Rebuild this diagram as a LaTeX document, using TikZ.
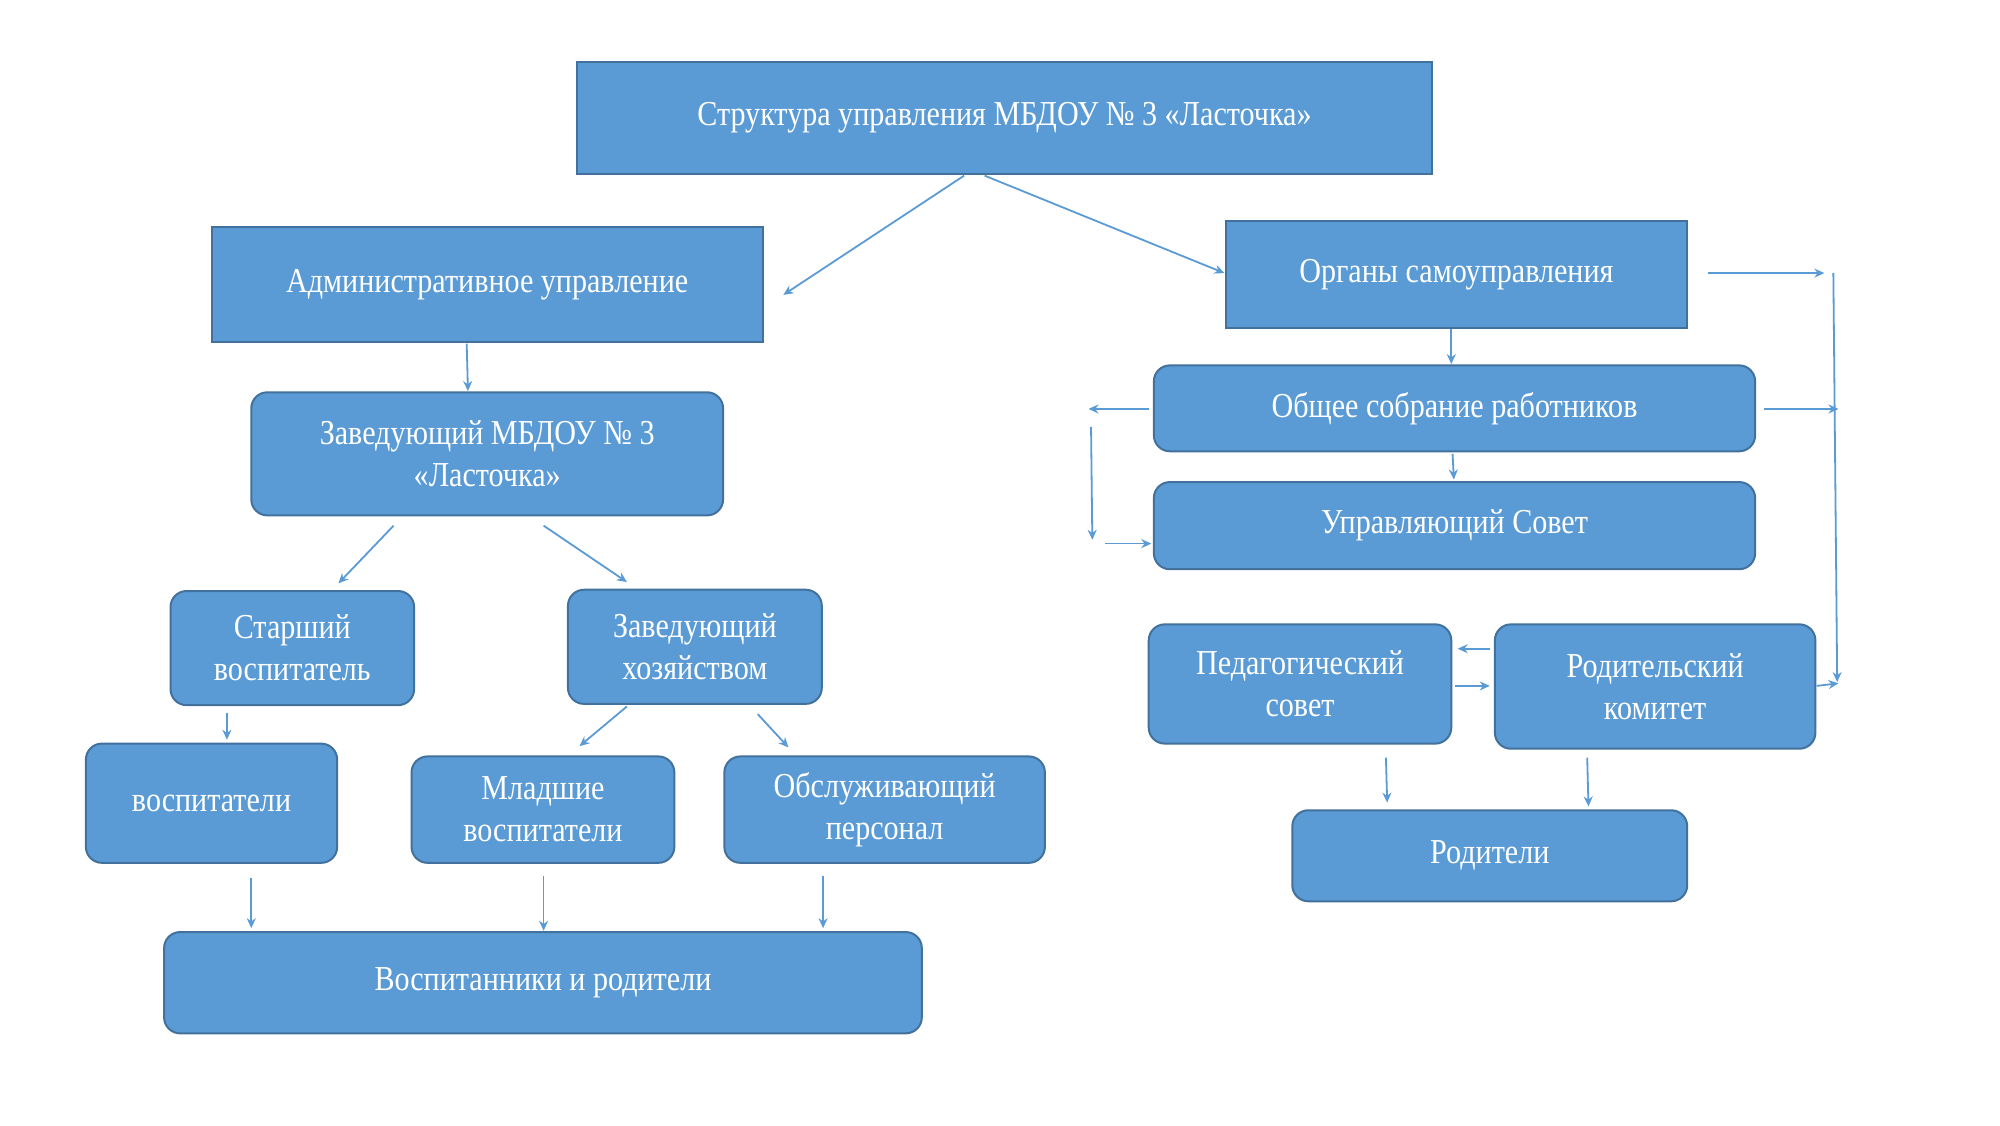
\documentclass[tikz,border=0pt]{standalone}
\usepackage{fontspec}
\setmainfont{Liberation Serif}[FakeStretch=0.86]
\usetikzlibrary{arrows.meta}
\definecolor{bfill}{HTML}{5B9BD5}
\definecolor{bdraw}{HTML}{41719C}
\definecolor{arr}{HTML}{5B9BD5}
\tikzset{
 box/.style={draw=bdraw,line width=1pt,fill=bfill,text=white,align=center,font=\fontsize{17.5}{21}\selectfont,inner sep=0pt},
 rbox/.style={box,rounded corners=8pt},
 ar/.style={draw=arr,line width=0.9pt,-{Stealth[length=5pt,width=4.5pt]}},
 ln/.style={draw=arr,line width=0.9pt}
}
\newcommand{\bx}[6]{\node[#1,minimum width={(#4-#2)*0.641pt},minimum height={(#5-#3)*0.641pt}] (#6) at ({(#2+#4)/2},{(#3+#5)/2})}
\begin{document}
\begin{tikzpicture}[x=0.641pt,y=-0.641pt]
\useasboundingbox[fill=white] (0,0) rectangle (1560,877.5);
\bx{box}{450}{48}{1117}{136}{top} {Структура управления МБДОУ № 3 «Ласточка»};
\bx{box}{165}{177}{595}{267}{adm} {Административное управление};
\bx{box}{956}{172}{1316}{256}{org} {Органы самоуправления};
\bx{rbox}{196}{306}{564}{402}{zav} {Заведующий МБДОУ № 3\\«Ласточка»};
\bx{rbox}{133}{461}{323}{550}{st} {Старший\\воспитатель};
\bx{rbox}{443}{460}{641}{549}{zh} {Заведующий\\хозяйством};
\bx{rbox}{67}{580}{263}{673}{vs} {воспитатели};
\bx{rbox}{321}{590}{526}{673}{ml} {Младшие\\воспитатели};
\bx{rbox}{565}{590}{815}{673}{ob} {Обслуживающий\\персонал};
\bx{rbox}{128}{727}{719}{806}{vr} {Воспитанники и родители};
\bx{rbox}{900}{285}{1369}{352}{os} {Общее собрание работников};
\bx{rbox}{900}{376}{1369}{444}{us} {Управляющий Совет};
\bx{rbox}{896}{487}{1132}{580}{ps} {Педагогический\\совет};
\bx{rbox}{1166}{487}{1416}{584}{rk} {Родительский\\комитет};
\bx{rbox}{1008}{632}{1316}{703}{rd} {Родители};
% endpoints
\coordinate (a1) at (752,137); \coordinate (a2) at (611,230);
\coordinate (b1) at (768,137); \coordinate (b2) at (955,213);
\coordinate (c1) at (364,268); \coordinate (c2) at (365,305);
\coordinate (d1) at (307,410); \coordinate (d2) at (264,455);
\coordinate (e1) at (424,410); \coordinate (e2) at (489,454);
\coordinate (f1) at (177,556); \coordinate (f2) at (177,577);
\coordinate (g1) at (489,551); \coordinate (g2) at (452,582);
\coordinate (h1) at (591,557); \coordinate (h2) at (615,583);
\coordinate (i1) at (196,685); \coordinate (i2) at (196,724);
\coordinate (j1) at (424,683); \coordinate (j2) at (424,726);
\coordinate (k1) at (642,683); \coordinate (k2) at (642,724);
\coordinate (l1) at (1132,257); \coordinate (l2) at (1132,284);
\coordinate (m1) at (1332,213); \coordinate (m2) at (1423,213);
\coordinate (n1) at (1430,213); \coordinate (n2) at (1433,532);
\coordinate (o1) at (1133,354); \coordinate (o2) at (1134,374);
\coordinate (p1) at (896,319); \coordinate (p2) at (849,319);
\coordinate (q1) at (851,333); \coordinate (q2) at (852,421);
\coordinate (r1) at (862,424); \coordinate (r2) at (898,424);
\coordinate (s1) at (1376,319); \coordinate (s2) at (1434,319);
\coordinate (t1) at (1162,506); \coordinate (t2) at (1137,506);
\coordinate (u1) at (1135,535); \coordinate (u2) at (1162,535);
\coordinate (v1) at (1417,535); \coordinate (v2) at (1434,533);
\coordinate (w1) at (1081,591); \coordinate (w2) at (1082,626);
\coordinate (z1) at (1238,591); \coordinate (z2) at (1239,629);
\foreach \p in {a,b,c,d,e,f,g,h,i,j,k,l,m,n,o,p,q,r,s,t,u,v,w,z}
  \draw[ar] (\p1) -- (\p2);
\end{tikzpicture}
\end{document}
